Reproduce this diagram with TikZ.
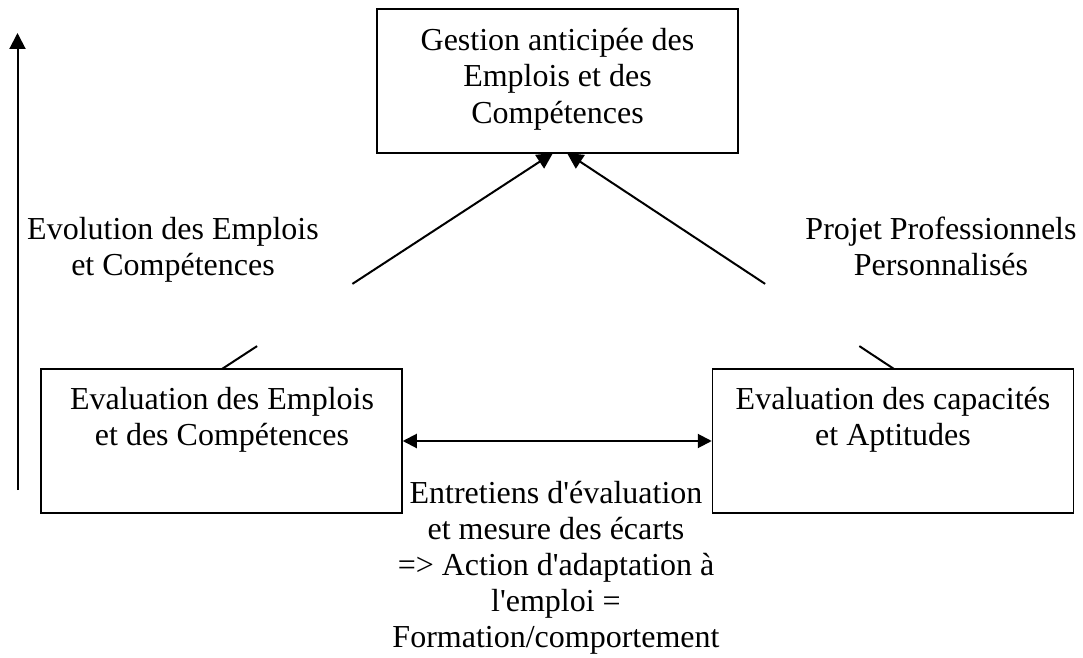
\documentclass[tikz,border=0pt]{standalone}
\usepackage{fontspec}
\setmainfont{Liberation Serif}
\usetikzlibrary{arrows.meta,calc}
\begin{document}
\begin{tikzpicture}[x=0.5pt,y=-0.5pt,
  box/.style={draw, line width=0.75pt, minimum width=180.5pt, minimum height=72pt, inner sep=0pt},
  txt/.style={align=center, anchor=north, inner sep=0pt, font=\fontsize{16}{18.4}\selectfont},
  conn/.style={line width=1pt},
  tip/.style={-{Triangle[length=8pt,width=8pt]}},
  dtip/.style={{Triangle[length=7pt,width=7pt]}-{Triangle[length=7pt,width=7pt]}}]
\useasboundingbox (0,0) rectangle (1083,658);
% boxes
\node[box] (gpec) at (557.5,81) {};
\node[box] (evalE) at (221.5,441) {};
\node[box] (evalC) at (893,441) {};
% box texts
\node[txt] (gpecT) at (557.5,24) {\strut Gestion anticipée des\\Emplois et des\\Compétences};
\node[txt] (evalET) at (222,383) {\strut Evaluation des Emplois\\et des Compétences};
\node[txt] (evalCT) at (893,383) {\strut Evaluation des capacités\\et Aptitudes};
% labels
\node[txt] (evol) at (173,213) {\strut Evolution des Emplois\\et Compétences};
\node[txt] (proj) at (941,213) {\strut Projet Professionnels\\Personnalisés};
\node[txt, font=\fontsize{16}{18}\selectfont] (entr) at (556,477.8) {\strut Entretiens d\textquotesingle évaluation\\et mesure des écarts\\=> Action d\textquotesingle adaptation à\\l\textquotesingle emploi =\\Formation/comportement};
% connector anchor points
\coordinate (sL) at (222,369);
\coordinate (tL) at (553,153);
\coordinate (sR) at (894,369);
\coordinate (tR) at (567,153);
\coordinate (vB) at (17.5,490);
\coordinate (vT) at (17.5,33);
% connectors
\draw[conn] (sL) -- ($(sL)!0.106!(tL)$);
\draw[conn,tip] ($(sL)!0.394!(tL)$) -- (tL);
\draw[conn] (sR) -- ($(sR)!0.106!(tR)$);
\draw[conn,tip] ($(sR)!0.394!(tR)$) -- (tR);
\draw[conn,dtip] (evalE.east) -- (evalC.west);
\draw[conn,tip] (vB) -- (vT);
\end{tikzpicture}
\end{document}
